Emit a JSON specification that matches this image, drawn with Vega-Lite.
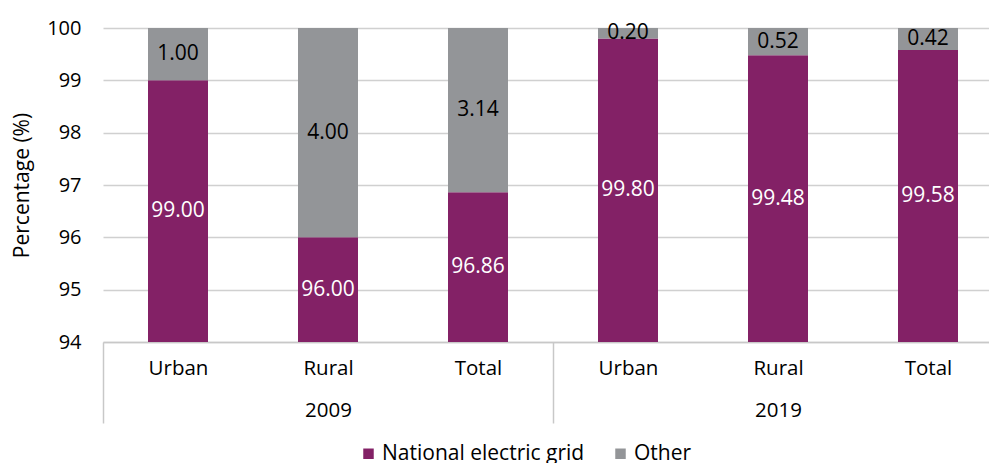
{
  "$schema": "https://vega.github.io/schema/vega-lite/v6.json",
  "autosize": {"type": "none"},
  "padding": {"left": 103, "top": 28, "right": 0, "bottom": 121},
  "width": 900,
  "height": 314,
  "background": "#ffffff",
  "config": {
    "font": "Open Sans",
    "view": {"stroke": null}
  },
  "data": {
    "values": [
      {"key": "2009|Urban", "source": "National electric grid", "value": 99.00},
      {"key": "2009|Urban", "source": "Other", "value": 1.00},
      {"key": "2009|Rural", "source": "National electric grid", "value": 96.00},
      {"key": "2009|Rural", "source": "Other", "value": 4.00},
      {"key": "2009|Total", "source": "National electric grid", "value": 96.86},
      {"key": "2009|Total", "source": "Other", "value": 3.14},
      {"key": "2019|Urban", "source": "National electric grid", "value": 99.80},
      {"key": "2019|Urban", "source": "Other", "value": 0.20},
      {"key": "2019|Rural", "source": "National electric grid", "value": 99.48},
      {"key": "2019|Rural", "source": "Other", "value": 0.52},
      {"key": "2019|Total", "source": "National electric grid", "value": 99.58},
      {"key": "2019|Total", "source": "Other", "value": 0.42}
    ]
  },
  "transform": [
    {"stack": "value", "groupby": ["key"], "sort": [{"field": "source", "order": "ascending"}], "as": ["v0", "v1"]},
    {"calculate": "(max(datum.v0, 94) + datum.v1) / 2", "as": "mid"}
  ],
  "encoding": {
    "x": {
      "field": "key",
      "type": "nominal",
      "sort": null,
      "scale": {"paddingInner": 0.6, "paddingOuter": 0.3},
      "axis": {
        "title": null,
        "labelAngle": 0,
        "labelExpr": "datum.value === '2009|Rural' ? ['Rural', '2009'] : datum.value === '2019|Rural' ? ['Rural', '2019'] : (datum.value === '2009|Urban' || datum.value === '2019|Urban') ? 'Urban' : 'Total'",
        "labelFontSize": 20.5,
        "labelLineHeight": 42,
        "labelPadding": -65,
        "labelOffset": 75,
        "labelColor": "#000000",
        "tickSize": 81,
        "tickOffset": -75,
        "tickColor": "#c8c8c8",
        "tickWidth": 1.5,
        "tickOpacity": {"condition": {"test": "datum.value === '2009|Urban' || datum.value === '2019|Urban'", "value": 1}, "value": 0},
        "domainColor": "#c8c8c8",
        "domainWidth": 1.5,
        "grid": false
      }
    }
  },
  "layer": [
    {
      "mark": {"type": "bar", "clip": true},
      "encoding": {
        "y": {
          "field": "v1",
          "type": "quantitative",
          "scale": {"domain": [94, 100], "nice": false, "zero": false},
          "axis": {
            "values": [94, 95, 96, 97, 98, 99, 100],
            "title": "Percentage (%)",
            "domain": false,
            "ticks": false,
            "labelPadding": 22,
            "labelFontSize": 20,
            "labelColor": "#000000",
            "gridColor": "#d0d0d0",
            "gridWidth": 1.3,
            "titleFontSize": 21,
            "titleFontWeight": "normal",
            "titleColor": "#000000",
            "titleX": -75,
            "titleY": 157,
            "titleAngle": -90,
            "titleBaseline": "alphabetic",
            "titleAlign": "center"
          }
        },
        "y2": {"field": "v0"},
        "color": {
          "field": "source",
          "type": "nominal",
          "scale": {"domain": ["National electric grid", "Other"], "range": ["#832166", "#939598"]},
          "legend": {
            "title": null,
            "orient": "none",
            "legendX": 255,
            "legendY": 415,
            "direction": "horizontal",
            "symbolType": "square",
            "symbolSize": 110,
            "symbolStrokeWidth": 0,
            "labelFontSize": 21,
            "labelColor": "#000000",
            "labelOffset": 3,
            "labelLimit": 400,
            "columnPadding": 25
          }
        }
      }
    },
    {
      "mark": {"type": "text", "fontSize": 21},
      "encoding": {
        "y": {"field": "mid", "type": "quantitative"},
        "text": {"field": "value", "type": "quantitative", "format": ".2f"},
        "color": {"condition": {"test": "datum.source === 'Other'", "value": "#000000"}, "value": "#ffffff"}
      }
    }
  ]
}
